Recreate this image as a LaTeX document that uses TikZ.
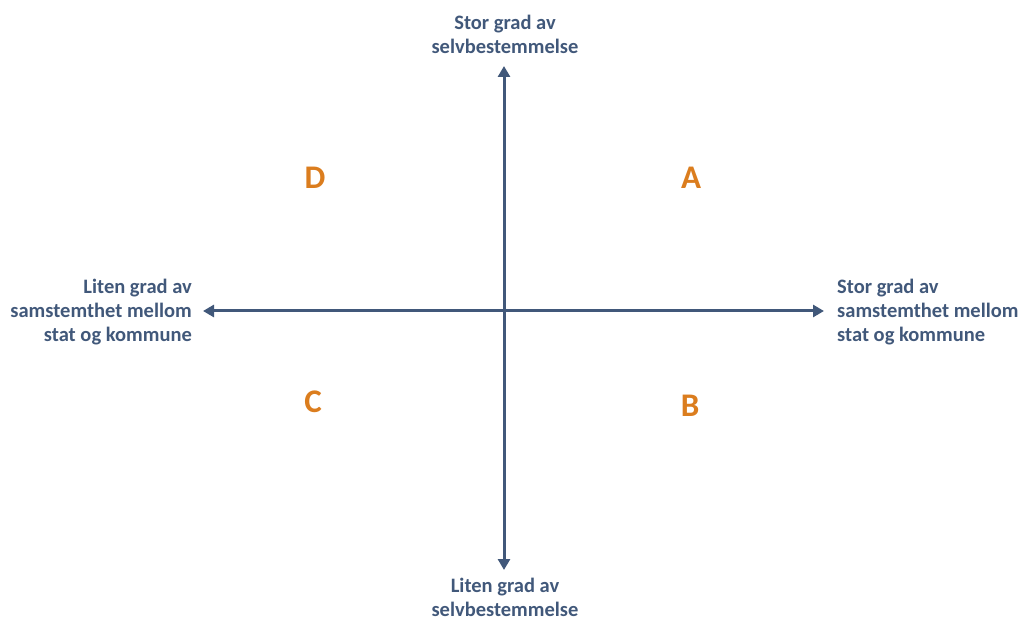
\documentclass[tikz,border=0pt]{standalone}
\usepackage{fontspec}
\setmainfont{Carlito}
\usetikzlibrary{arrows.meta}
\definecolor{axisblue}{HTML}{41587A}
\definecolor{txtblue}{HTML}{41587A}
\definecolor{letterorange}{HTML}{DB7D1E}
\begin{document}
\begin{tikzpicture}[x=1pt,y=-1pt,
  axis/.style={draw=axisblue,line width=3pt,{Triangle[width=12pt,length=11pt]}-{Triangle[width=12pt,length=11pt]}},
  lbl/.style={text=txtblue,font=\fontsize{20.5}{24}\selectfont\bfseries,inner sep=0pt},
  quad/.style={text=letterorange,font=\fontsize{33}{36}\selectfont\bfseries,inner sep=0pt}]
\useasboundingbox (0,0) rectangle (1018,620);
\coordinate (top) at (504,66);
\coordinate (bot) at (504,570);
\coordinate (left) at (203,311);
\coordinate (right) at (824,311);
\draw[axis] (bot) -- (top);
\draw[axis] (left) -- (right);
\node[lbl,align=center,anchor=center] (tl) at (505,34) {Stor grad av\\selvbestemmelse};
\node[lbl,align=center,anchor=center] (bl) at (505,597) {Liten grad av\\selvbestemmelse};
\node[lbl,align=right,anchor=east] (ll) at (192,312) {Liten grad av\\samstemthet mellom\\stat og kommune};
\node[lbl,align=left,anchor=west] (rl) at (837,312) {Stor grad av\\samstemthet mellom\\stat og kommune};
\node[quad] (A) at (691,178) {A};
\node[quad] (B) at (690,406) {B};
\node[quad] (C) at (313,402) {C};
\node[quad] (D) at (315,178) {D};
\end{tikzpicture}
\end{document}
